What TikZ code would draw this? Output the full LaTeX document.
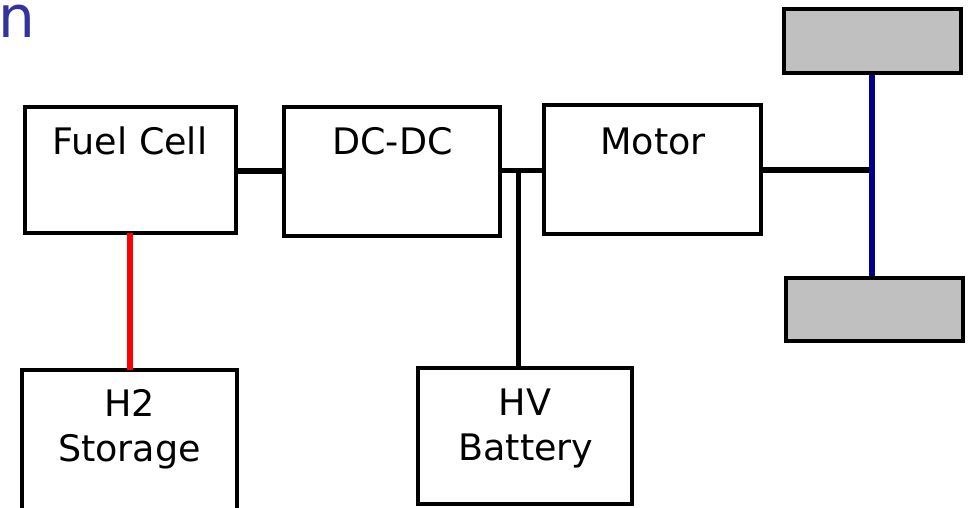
\documentclass[tikz,border=0pt]{standalone}
\usepackage{fontspec}
\setmainfont{DejaVu Sans}
\definecolor{titleblue}{RGB}{51,51,153}
\definecolor{axleblue}{RGB}{0,0,140}
\definecolor{wheelgray}{RGB}{192,192,192}
\begin{document}
\begin{tikzpicture}[x=1pt,y=-1pt,
  box/.style={draw=black, line width=4pt, fill=white, inner sep=0pt, outer sep=0pt},
  wheelbox/.style={draw=black, line width=4pt, fill=wheelgray, inner sep=0pt, outer sep=0pt,
    minimum width=177pt, minimum height=63.5pt},
  lbl/.style={font=\fontsize{36.5}{45}\selectfont, inner sep=0pt, anchor=base},
  wire/.style={line width=5.2pt}]
\useasboundingbox (0,0) rectangle (968,507);
\clip (0,0) rectangle (968,507);

% title fragment
\node[font=\fontsize{58}{60}\selectfont, text=titleblue, inner sep=0pt, anchor=base west] (title) at (-2,37) {n};

% boxes
\node[box, minimum width=211.5pt, minimum height=126pt] (fc) at (130.25,169.5) {};
\node[box, minimum width=215.7pt, minimum height=129.3pt] (dc) at (392.2,171.3) {};
\node[box, minimum width=216.4pt, minimum height=129pt] (mo) at (652.5,169.8) {};
\node[box, minimum width=214.4pt, minimum height=170pt] (h2) at (129.5,455) {};
\node[box, minimum width=214pt, minimum height=136.6pt] (hv) at (524.7,436) {};
\node[wheelbox] (wt) at (872,40.75) {};
\node[wheelbox] (wb) at (874,309.25) {};

% labels
\node[lbl] (fct) at (130,154.3) {Fuel Cell};
\node[lbl] (dct) at (392.5,154.3) {DC-DC};
\node[lbl] (mot) at (653,154) {Motor};
\node[lbl] (h2a) at (129.5,416.7) {H2};
\node[lbl] (h2b) at (129.5,461.7) {Storage};
\node[lbl] (hva) at (525,415) {HV};
\node[lbl] (hvb) at (526,460) {Battery};

% connectors
\coordinate (j) at (518.3,170.3);
\coordinate (ax) at (870,170);
\draw[wire] (fc.east |- 0,171) -- (dc.west |- 0,171);
\draw[wire] (dc.east |- j) -- (mo.west |- j);
\draw[wire] (j) -- (j |- hv.north);
\draw[wire] (mo.east |- ax) -- (ax);
\draw[line width=5.2pt, red] (fc.south -| 130,0) -- (h2.north -| 130,0);
\draw[line width=5.5pt, axleblue, shorten <=2.5pt, shorten >=2pt] (wt.south -| 872,0) -- (wb.north -| 872,0);
\end{tikzpicture}
\end{document}
